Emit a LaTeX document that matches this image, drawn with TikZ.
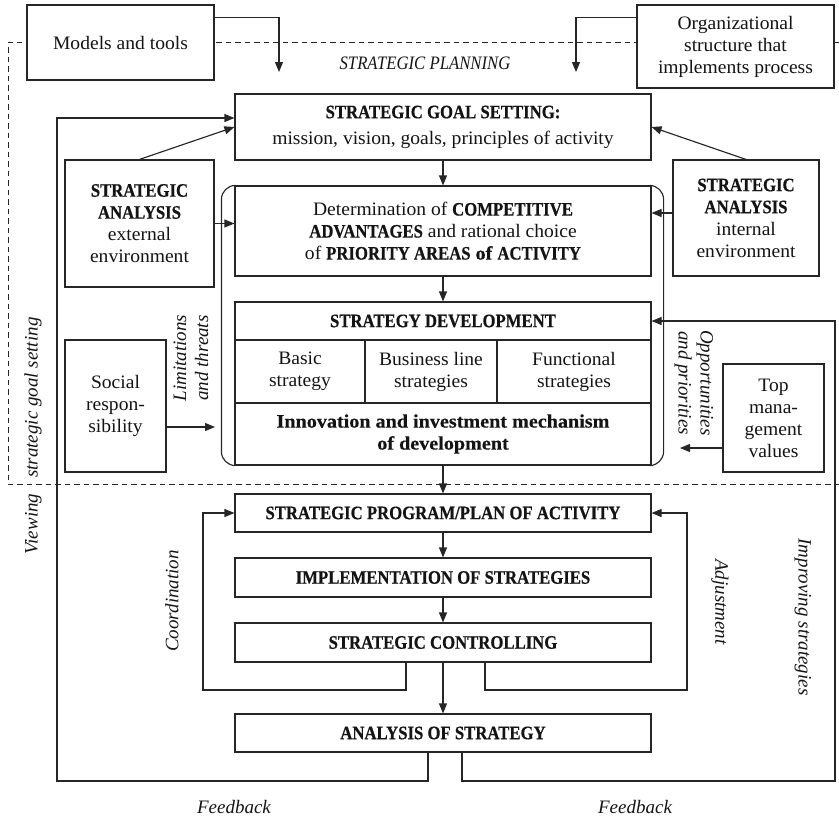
\documentclass[tikz,border=0pt]{standalone}
\usepackage{fontspec}
\setmainfont{Liberation Serif}[
  UprightFeatures={FakeStretch=1.03},
  BoldFeatures={FakeStretch=1.06, FakeBold=0.4},
  ItalicFeatures={FakeStretch=1.0}]
% narrower face for capital headings
\newfontfamily\hdfamily{Liberation Serif}[FakeStretch=0.88, BoldFeatures={FakeBold=0.5}]
\newcommand\hd[1]{{\hdfamily\bfseries #1}}
\usetikzlibrary{arrows.meta,calc}
\begin{document}
\begin{tikzpicture}[x=1pt,y=-1pt,
  base/.style={font=\fontsize{19pt}{22pt}\selectfont, text=black!92},
  box/.style={base, draw=black!85, line width=1.15pt, fill=white,
    align=center, inner sep=0pt},
  wire/.style={draw=black!85, line width=1.15pt},
  arr/.style={wire, -{Triangle[length=10pt,width=8pt]}},
  lbl/.style={base, font=\fontsize{19pt}{22pt}\selectfont\itshape, align=center, inner sep=0pt}]
\useasboundingbox (0,0) rectangle (839,817);

% dashed frame of the planning stage
\draw[wire, line width=1pt, dash pattern=on 5.5pt off 4pt] (839,42) -- (8,42) -- (8,484) -- (839,484);

% boxes
\node[box, minimum width=187pt, minimum height=75pt] (models) at (120.5,42.5) {Models and tools};
\node[box, minimum width=197pt, minimum height=83pt] (org) at (735.5,46.5) {Organizational\\structure that\\implements process};
\node[box, minimum width=416pt, minimum height=66pt] (goal) at (443,127)
  {\hd{STRATEGIC GOAL SETTING:}\\[4pt]mission, vision, goals, principles of activity};
\node[box, minimum width=149pt, minimum height=127pt] (extL) at (139.5,223.5)
  {\hd{STRATEGIC}\\\hd{ANALYSIS}\\external\\environment};
\node[box, minimum width=146pt, minimum height=116pt] (extR) at (746,218)
  {\hd{STRATEGIC}\\\hd{ANALYSIS}\\internal\\environment};
\node[box, minimum width=416pt, minimum height=90pt] (adv) at (443,231)
  {Determination of \hd{COMPETITIVE}\\\hd{ADVANTAGES} and rational choice\\of \hd{PRIORITY AREAS} \textbf{of} \hd{ACTIVITY}};
\node[box, minimum width=416pt, minimum height=38pt] (devT) at (443,321) {\hd{STRATEGY DEVELOPMENT}};
\node[box, minimum width=130pt, minimum height=63pt] (basic) at (300,371.5) {Basic\\strategy};
\node[box, minimum width=132pt, minimum height=63pt] (bline) at (431,371.5) {Business line\\strategies};
\node[box, minimum width=154pt, minimum height=63pt] (func) at (574,371.5) {Functional\\strategies};
\node[box, minimum width=416pt, minimum height=62pt] (devB) at (443,434)
  {\textbf{Innovation and investment mechanism}\\\textbf{of development}};
\node[box, minimum width=101pt, minimum height=132pt] (social) at (115.5,406) {Social\\respon-\\sibility};
\node[box, minimum width=101pt, minimum height=108pt] (topm) at (773.5,418) {Top\\mana-\\gement\\values};
\node[box, minimum width=416pt, minimum height=38pt] (prog) at (443,513) {\hd{STRATEGIC PROGRAM/PLAN OF ACTIVITY}};
\node[box, minimum width=416pt, minimum height=39pt] (impl) at (443,577.5) {\hd{IMPLEMENTATION OF STRATEGIES}};
\node[box, minimum width=416pt, minimum height=39pt] (ctrl) at (443,642.5) {\hd{STRATEGIC CONTROLLING}};
\node[box, minimum width=416pt, minimum height=38pt] (anal) at (443,733) {\hd{ANALYSIS OF STRATEGY}};

% bracket around the strategy formation block
\draw[wire, rounded corners=14pt] (adv.north west) -- ++(-13,0) |- (devB.south west);
\draw[wire, rounded corners=14pt] (adv.north east) -- ++(12,0) |- (devB.south east);

% end points of connectors
\coordinate (mtEnd) at (279,72);
\coordinate (orgEnd) at (576,72);
\coordinate (eR) at ([yshift=5pt]extR.west);
\coordinate (limEnd) at (215,427);
\coordinate (oppEnd) at (680,448);
\coordinate (coL) at (203,690);
\coordinate (coR) at (687,690);
\coordinate (fbL) at (57,781);
\coordinate (fbR) at (835,781);

% connectors
\draw[arr] ([yshift=-13pt]models.north east) -| (mtEnd);
\draw[arr] ([yshift=-13pt]org.north west) -| (orgEnd);
\draw[arr] (extL.north) -- (goal.west);
\draw[arr] (extR.north) -- (goal.east);
\draw[arr] (extL.east) -- (extL.east -| adv.west);
\draw[arr] (eR) -- (eR -| adv.east);
\draw[arr] (goal.south) -- (adv.north);
\draw[arr] (adv.south) -- (devT.north);
\draw[arr] (limEnd -| social.east) -- (limEnd);
\draw[arr] (oppEnd -| topm.west) -- (oppEnd);
\draw[arr] (devB.south) -- (prog.north);
\draw[arr] (prog.south) -- (impl.north);
\draw[arr] (impl.south) -- (ctrl.north);
\draw[arr] (ctrl.south) -- (anal.north);
\draw[arr] ([xshift=-37pt]ctrl.south) |- (coL) |- (prog.west);
\draw[arr] ([xshift=42pt]ctrl.south) |- (coR) |- (prog.east);
\draw[arr] ([xshift=-15pt]anal.south) |- (fbL) |- ([yshift=9pt]goal.west);
\draw[arr] ([xshift=19pt]anal.south) |- (fbR) |- (devT.east);

% labels
\node[lbl] (plan) at (425,63) {\hdfamily\itshape STRATEGIC PLANNING};
\node[lbl, rotate=90] (lim) at (191,358) {Limitations\\and threats};
\node[lbl, rotate=-90] (opp) at (694,383) {Opportunities\\and priorities};
\node[lbl, rotate=90] (coord) at (172,601) {Coordination};
\node[lbl, rotate=-90] (adj) at (720,602) {Adjustment};
\node[lbl, rotate=-90] (impr) at (803,617) {Improving strategies};
\node[lbl, rotate=90] (view) at (33,436) {Viewing\hspace{11pt} strategic goal setting};
\node[lbl] (fb1) at (234,807) {Feedback};
\node[lbl] (fb2) at (635,807) {Feedback};
\end{tikzpicture}
\end{document}
